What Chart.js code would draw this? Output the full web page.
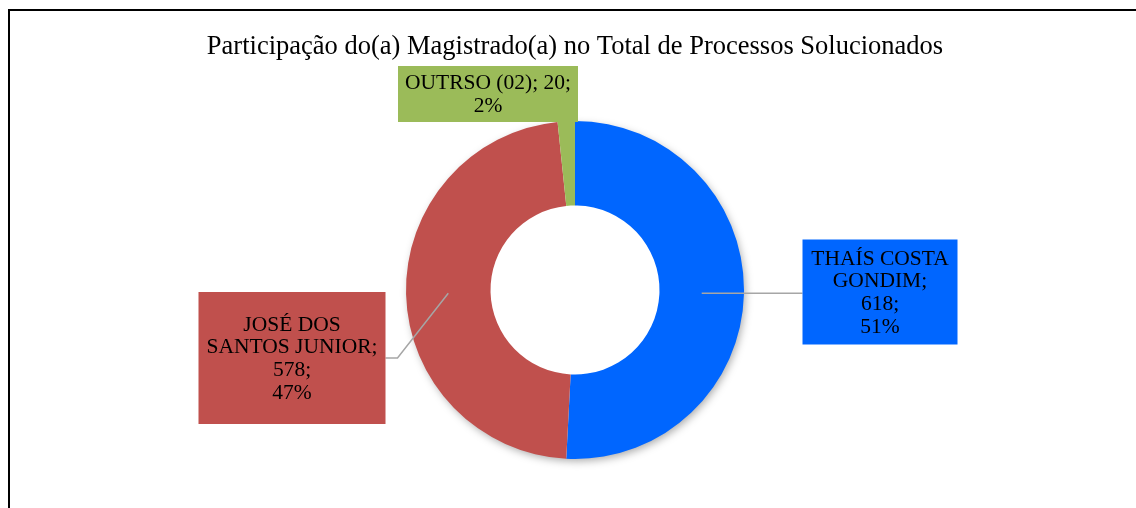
<!DOCTYPE html>
<html>
<head>
<meta charset="utf-8">
<script src="https://cdn.jsdelivr.net/npm/chart.js@4"></script>
<style>
  body { margin: 0; background: #fff; }
  #frame {
    position: absolute; left: 8px; top: 9px; width: 1200px; height: 600px;
    border-left: 2px solid #000; border-top: 2px solid #000; pointer-events: none;
  }
</style>
</head>
<body>
<canvas id="chart" width="1136" height="508"></canvas>
<div id="frame"></div>
<script>
// data
const names = ['THAÍS COSTA|GONDIM', 'JOSÉ DOS|SANTOS JUNIOR', 'OUTRSO (02)'];
const values = [618, 578, 20];
const percents = [51, 47, 2];

const colors = ['#0066FF', '#C0504D', '#9BBB59'];

// label boxes, relative to the doughnut centre
const labelBoxes = [
  { dx: 305, dy: 2, w: 155, h: 105, leader: 'straight', compact: false },
  { dx: -283, dy: 68, w: 187, h: 132, leader: 'elbow', compact: false },
  { dx: -87, dy: -196, w: 180, h: 56, leader: 'none', compact: true }
];

function labelLines(i) {
  const parts = names[i].split('|');
  if (labelBoxes[i].compact) {
    return [parts.join(' ') + '; ' + values[i] + ';', percents[i] + '%'];
  }
  const lines = parts.slice();
  lines[lines.length - 1] += ';';
  lines.push(values[i] + ';', percents[i] + '%');
  return lines;
}

const ringShadow = {
  id: 'ringShadow',
  beforeDatasetsDraw(chart) {
    const arc = chart.getDatasetMeta(0).data[0];
    const ctx = chart.ctx;
    ctx.save();
    ctx.shadowColor = 'rgba(0,0,0,0.35)';
    ctx.shadowBlur = 9;
    ctx.shadowOffsetX = 2;
    ctx.shadowOffsetY = 3;
    ctx.fillStyle = '#fff';
    ctx.beginPath();
    ctx.arc(arc.x, arc.y, arc.outerRadius - 1, 0, Math.PI * 2);
    ctx.fill();
    ctx.restore();
  }
};

const boxLabels = {
  id: 'boxLabels',
  afterDatasetsDraw(chart) {
    const ctx = chart.ctx;
    const meta = chart.getDatasetMeta(0);
    meta.data.forEach((arc, i) => {
      const box = labelBoxes[i];
      const cx = arc.x + box.dx, cy = arc.y + box.dy;
      const left = cx - box.w / 2, right = cx + box.w / 2, top = cy - box.h / 2;
      const c = arc.getCenterPoint();

      ctx.save();
      ctx.strokeStyle = '#A6A6A6';
      ctx.lineWidth = 1.5;
      if (box.leader === 'straight') {
        ctx.beginPath();
        ctx.moveTo(c.x, c.y);
        ctx.lineTo(left, c.y);
        ctx.stroke();
      } else if (box.leader === 'elbow') {
        ctx.beginPath();
        ctx.moveTo(c.x, c.y);
        ctx.lineTo(right + 12, cy);
        ctx.lineTo(right, cy);
        ctx.stroke();
      }

      ctx.fillStyle = colors[i];
      ctx.fillRect(left, top, box.w, box.h);

      const lines = labelLines(i);
      const lh = 22.6;
      ctx.fillStyle = '#000';
      ctx.font = '21.5px "Liberation Serif"';
      ctx.textAlign = 'center';
      ctx.textBaseline = 'middle';
      let y = cy - (lines.length - 1) * lh / 2 + 1;
      lines.forEach(l => { ctx.fillText(l, cx, y); y += lh; });
      ctx.restore();
    });
  }
};

new Chart(document.getElementById('chart'), {
  type: 'doughnut',
  data: {
    labels: names.map(n => n.replace('|', ' ')),
    datasets: [{
      data: values,
      backgroundColor: colors,
      borderWidth: 0
    }]
  },
  options: {
    responsive: false,
    animation: false,
    cutout: '50%',
    layout: { padding: { top: 20, bottom: 49, left: 14, right: 0 } },
    plugins: {
      legend: { display: false },
      tooltip: { enabled: false },
      title: {
        display: true,
        text: 'Participação do(a) Magistrado(a) no Total de Processos Solucionados',
        color: '#000',
        font: { family: '"Liberation Serif"', size: 26.5, weight: 'normal', lineHeight: 1.2 },
        padding: { top: 11.1, bottom: 58.1 }
      }
    }
  },
  plugins: [ringShadow, boxLabels]
});
</script>
</body>
</html>
